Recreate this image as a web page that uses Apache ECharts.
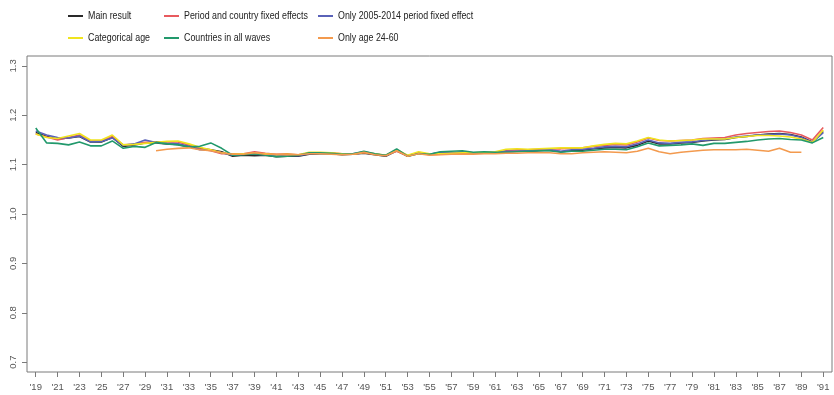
<!DOCTYPE html>
<html>
<head>
<meta charset="utf-8">
<script src="https://cdn.jsdelivr.net/npm/echarts@6/dist/echarts.min.js"></script>
<style>
  html, body { margin: 0; padding: 0; background: #fff; }
  #chart { width: 834px; height: 395px; }
</style>
</head>
<body>
<div id="chart"></div>
<script>
// Birth cohorts 1919–1991
const years = [];
for (let y = 1919; y <= 1991; y++) years.push(y);

// Tick labels on the cohort axis (every second year)
const yearTicks = [];
for (let y = 1919; y <= 1991; y += 2) yearTicks.push(y);
const valueTicks = [0.7, 0.8, 0.9, 1.0, 1.1, 1.2, 1.3];

const mainResult = [
  1.165, 1.157, 1.152, 1.154, 1.157, 1.146, 1.146, 1.155, 1.137, 1.140,
  1.144, 1.144, 1.142, 1.141, 1.136, 1.133, 1.130, 1.126, 1.117, 1.119,
  1.118, 1.119, 1.116, 1.117, 1.117, 1.121, 1.122, 1.122, 1.120, 1.121,
  1.123, 1.120, 1.117, 1.128, 1.117, 1.123, 1.121, 1.124, 1.123, 1.124,
  1.123, 1.124, 1.124, 1.126, 1.127, 1.127, 1.128, 1.129, 1.126, 1.128,
  1.129, 1.132, 1.134, 1.135, 1.134, 1.139, 1.148, 1.142, 1.142, 1.144,
  1.145, 1.148, 1.150, 1.151, 1.155, 1.157, 1.160, 1.162, 1.163, 1.161,
  1.156, 1.146, 1.167
];
const periodCountryFE = [
  1.162, 1.156, 1.150, 1.155, 1.160, 1.148, 1.148, 1.157, 1.140, 1.141,
  1.145, 1.146, 1.146, 1.146, 1.140, 1.132, 1.128, 1.122, 1.122, 1.122,
  1.126, 1.123, 1.121, 1.122, 1.120, 1.123, 1.123, 1.124, 1.122, 1.121,
  1.124, 1.121, 1.119, 1.127, 1.118, 1.124, 1.120, 1.121, 1.122, 1.123,
  1.123, 1.124, 1.124, 1.128, 1.130, 1.130, 1.131, 1.132, 1.132, 1.133,
  1.134, 1.137, 1.139, 1.141, 1.140, 1.146, 1.154, 1.149, 1.148, 1.149,
  1.150, 1.153, 1.154, 1.155, 1.160, 1.163, 1.165, 1.167, 1.168, 1.165,
  1.160, 1.150, 1.175
];
const period2005FE = [
  1.168, 1.160, 1.155, 1.154, 1.158, 1.146, 1.147, 1.154, 1.139, 1.142,
  1.150, 1.145, 1.143, 1.142, 1.137, 1.130, 1.129, 1.124, 1.119, 1.121,
  1.121, 1.120, 1.118, 1.119, 1.118, 1.122, 1.123, 1.123, 1.121, 1.122,
  1.126, 1.122, 1.118, 1.129, 1.118, 1.124, 1.121, 1.125, 1.124, 1.126,
  1.124, 1.124, 1.125, 1.127, 1.127, 1.128, 1.129, 1.130, 1.127, 1.130,
  1.131, 1.133, 1.136, 1.137, 1.136, 1.142, 1.150, 1.144, 1.143, 1.145,
  1.146, 1.149, 1.151, 1.152, 1.156, 1.158, 1.160, 1.161, 1.162, 1.160,
  1.155, 1.145, 1.165
];
const categoricalAge = [
  1.162, 1.155, 1.153, 1.158, 1.163, 1.150, 1.150, 1.160, 1.140, 1.141,
  1.143, 1.145, 1.147, 1.148, 1.142, 1.135, 1.130, 1.124, 1.121, 1.122,
  1.123, 1.122, 1.120, 1.121, 1.120, 1.125, 1.125, 1.124, 1.122, 1.121,
  1.125, 1.122, 1.119, 1.130, 1.119, 1.126, 1.122, 1.122, 1.123, 1.124,
  1.124, 1.125, 1.126, 1.131, 1.132, 1.131, 1.132, 1.133, 1.134, 1.134,
  1.134, 1.138, 1.141, 1.143, 1.142, 1.148, 1.155, 1.150, 1.148, 1.149,
  1.150, 1.152, 1.152, 1.152, 1.155, 1.157, 1.159, 1.159, 1.158, 1.156,
  1.152, 1.145, 1.170
];
const allWaves = [
  1.174, 1.144, 1.143, 1.140, 1.146, 1.138, 1.138, 1.148, 1.133, 1.137,
  1.135, 1.145, 1.142, 1.140, 1.136, 1.137, 1.144, 1.133, 1.119, 1.120,
  1.122, 1.119, 1.116, 1.117, 1.119, 1.124, 1.124, 1.123, 1.121, 1.122,
  1.127, 1.122, 1.119, 1.132, 1.117, 1.122, 1.121, 1.126, 1.127, 1.128,
  1.125, 1.126, 1.125, 1.125, 1.126, 1.127, 1.128, 1.128, 1.125, 1.127,
  1.127, 1.129, 1.131, 1.131, 1.130, 1.136, 1.144, 1.138, 1.139, 1.140,
  1.142, 1.139, 1.143, 1.143, 1.145, 1.147, 1.150, 1.152, 1.153, 1.151,
  1.150, 1.144, 1.155
];
const age24to60 = [
  null, null, null, null, null, null, null, null, null, null,
  null, 1.128, 1.131, 1.133, 1.134, 1.130, 1.128, 1.124, 1.121, 1.121,
  1.124, 1.121, 1.121, 1.120, 1.120, 1.122, 1.122, 1.121, 1.120, 1.121,
  1.125, 1.120, 1.118, 1.128, 1.117, 1.122, 1.119, 1.120, 1.121, 1.121,
  1.121, 1.122, 1.122, 1.123, 1.123, 1.124, 1.124, 1.124, 1.122, 1.122,
  1.124, 1.125, 1.126, 1.125, 1.124, 1.127, 1.133, 1.126, 1.122, 1.125,
  1.127, 1.129, 1.130, 1.130, 1.130, 1.131, 1.129, 1.127, 1.133, 1.125,
  1.125, null, null
];

const seriesDefs = [
  { name: 'Main result', data: mainResult, color: '#2a2a2a' },
  { name: 'Period and country fixed effects', data: periodCountryFE, color: '#e85a5e' },
  { name: 'Only 2005-2014 period fixed effect', data: period2005FE, color: '#5a62b8' },
  { name: 'Categorical age', data: categoricalAge, color: '#f0e41e' },
  { name: 'Countries in all waves', data: allWaves, color: '#22996c' },
  { name: 'Only age 24-60', data: age24to60, color: '#f39a4e' }
];

// Key laid out in three columns and two rows, with narrowed text
const keyColumns = [68, 164, 318];
const keyRows = [16, 38];
const keyGraphics = [];
seriesDefs.forEach((s, i) => {
  const x = keyColumns[i % 3];
  const y = keyRows[Math.floor(i / 3)];
  keyGraphics.push({
    type: 'line', silent: true,
    shape: { x1: x, y1: y, x2: x + 15, y2: y },
    style: { stroke: s.color, lineWidth: 2 }
  });
  keyGraphics.push({
    type: 'text', silent: true,
    x: x + 20, y: y, scaleX: 0.77, originX: 0, originY: 0,
    style: {
      text: s.name, fill: '#222',
      font: '11.5px "Liberation Sans", Arial, sans-serif',
      verticalAlign: 'middle', align: 'left'
    }
  });
});

const axisFont = { fontFamily: '"Liberation Sans", Arial, sans-serif', fontSize: 9.5, color: '#555' };

const option = {
  animation: false,
  backgroundColor: '#fff',
  graphic: keyGraphics,
  grid: {
    left: 27, right: 2, top: 56, bottom: 23,
    show: true, borderColor: '#7a7a7a', borderWidth: 1, backgroundColor: 'transparent'
  },
  xAxis: {
    type: 'value', min: 1918.2, max: 1991.8,
    axisLine: { show: false },
    splitLine: { show: false },
    axisTick: { show: true, length: 5, lineStyle: { color: '#7a7a7a' }, customValues: yearTicks },
    axisLabel: {
      ...axisFont, margin: 10, customValues: yearTicks,
      formatter: v => "'" + String(v).slice(2)
    }
  },
  yAxis: {
    type: 'value', min: 0.68, max: 1.32,
    axisLine: { show: false },
    splitLine: { show: false },
    axisTick: { show: true, length: 5, lineStyle: { color: '#7a7a7a' }, customValues: valueTicks },
    axisLabel: {
      ...axisFont, margin: 9, rotate: 90, customValues: valueTicks,
      formatter: v => v.toFixed(1)
    }
  },
  series: seriesDefs.map(s => ({
    name: s.name,
    type: 'line',
    showSymbol: false,
    symbol: 'none',
    connectNulls: false,
    color: s.color,
    lineStyle: { width: 1.6, color: s.color },
    data: years.map((y, i) => [y, s.data[i]])
  }))
};

const chart = echarts.init(document.getElementById('chart'), null, { renderer: 'canvas' });
chart.setOption(option);
</script>
</body>
</html>
